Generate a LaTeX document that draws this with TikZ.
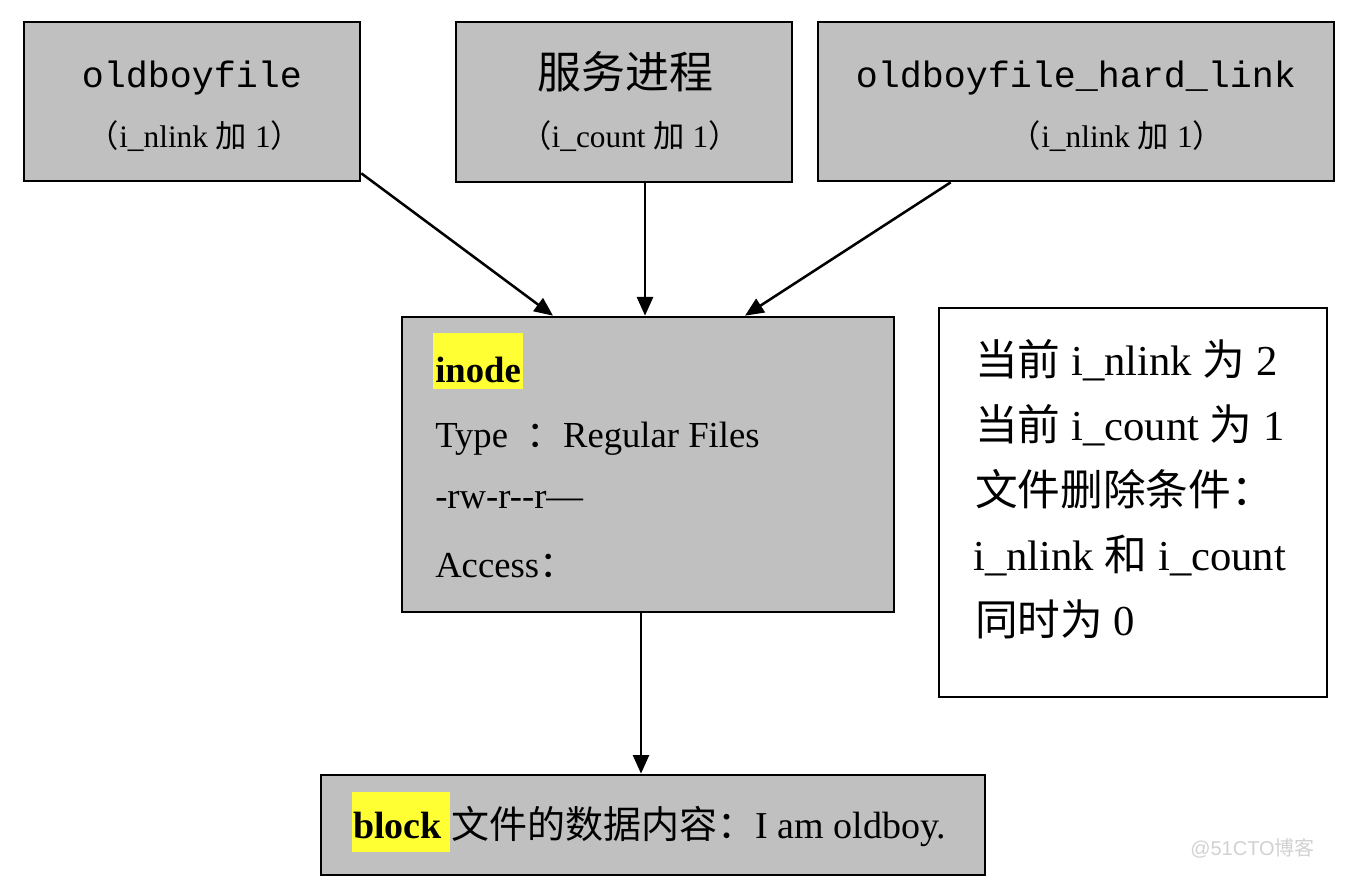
\documentclass[tikz,border=0pt]{standalone}
\usepackage{fontspec}
\setmainfont{Liberation Serif}
\setmonofont{Liberation Mono}
\newfontfamily\cjk{Noto Sans CJK SC}
\newfontfamily\wmfont{Liberation Sans}
\usetikzlibrary{arrows.meta,calc}
\definecolor{boxgray}{HTML}{C0C0C0}
\definecolor{hl}{HTML}{FFFF33}
\begin{document}
\begin{tikzpicture}[x=0.75pt,y=-0.75pt,
  box/.style={draw=black,line width=2pt,fill=boxgray,rectangle,inner sep=0pt},
  wbox/.style={draw=black,line width=2pt,fill=white,rectangle,inner sep=0pt},
  arr/.style={line width=1.9pt,-{Triangle[length=14pt,width=12pt]}},
  txt/.style={inner sep=0pt,anchor=base west},
  ctxt/.style={inner sep=0pt,anchor=base},
  hlbox/.style={fill=hl,inner sep=0pt,anchor=base west}]
\useasboundingbox (0,0) rectangle (1372,895);
% top boxes
\node[box,minimum width=252pt,minimum height=119.25pt] (f1) at (192,101.5) {};
\node[box,minimum width=252pt,minimum height=120pt] (f2) at (624,102) {};
\node[box,minimum width=387pt,minimum height=119.25pt] (f3) at (1076,101.5) {};
\node[ctxt,font=\ttfamily\fontsize{27.5pt}{30pt}\selectfont] (t1) at (192,88) {oldboyfile};
\node[ctxt,font=\fontsize{23.5pt}{26pt}\selectfont] (s1) at (195,148) {{\cjk （}i\_nlink {\cjk 加} 1{\cjk ）}};
\node[ctxt,font=\cjk\fontsize{33pt}{36pt}\selectfont] (t2) at (625,89) {服务进程};
\node[ctxt,font=\fontsize{23.5pt}{26pt}\selectfont] (s2) at (630,148) {{\cjk （}i\_count {\cjk 加} 1{\cjk ）}};
\node[ctxt,font=\ttfamily\fontsize{27.5pt}{30pt}\selectfont] (t3) at (1076,88) {oldboyfile\_hard\_link};
\node[ctxt,font=\fontsize{23.5pt}{26pt}\selectfont] (s3) at (1117,148) {{\cjk （}i\_nlink {\cjk 加} 1{\cjk ）}};
% inode box
\node[box,minimum width=369pt,minimum height=221.25pt] (inode) at (648,464.5) {};
\node[hlbox,minimum width=67.5pt,minimum height=42pt,anchor=north west] (hl1) at (433,333) {};
\node[txt,font=\bfseries\fontsize{27.5pt}{30pt}\selectfont] (n1) at (435,382) {inode};
\node[txt,font=\fontsize{27.5pt}{30pt}\selectfont] (n2) at (435,447) {Type\ \ {\cjk ：}Regular Files};
\node[txt,font=\fontsize{27.5pt}{30pt}\selectfont] (n3) at (435,508) {-rw-r-{}-r—};
\node[txt,font=\fontsize{27.5pt}{30pt}\selectfont] (n4) at (435,577) {Access{\cjk ：}};
% right note box
\node[wbox,minimum width=291pt,minimum height=291.75pt] (note) at (1133,502.5) {};
\node[txt,font=\fontsize{32pt}{34pt}\selectfont] (r1) at (975,375) {{\cjk 当前} i\_nlink {\cjk 为} 2};
\node[txt,font=\fontsize{32pt}{34pt}\selectfont] (r2) at (975,440) {{\cjk 当前} i\_count {\cjk 为} 1};
\node[txt,font=\fontsize{32pt}{34pt}\selectfont] (r3) at (975,505) {{\cjk 文件删除条件：}};
\node[txt,font=\fontsize{32pt}{34pt}\selectfont] (r4) at (973,570) {i\_nlink {\cjk 和} i\_count};
\node[txt,font=\fontsize{32pt}{34pt}\selectfont] (r5) at (975,635) {{\cjk 同时为} 0};
% block box
\node[box,minimum width=498pt,minimum height=75pt] (blk) at (653,825) {};
\node[hlbox,minimum width=73.5pt,minimum height=45pt,anchor=north west] (hl2) at (352,792) {};
\node[txt,font=\fontsize{28.5pt}{31pt}\selectfont] (b1) at (353,838) {\textbf{block} {\cjk 文件的数据内容：}I am oldboy.};
% arrows
\coordinate (a1s) at ($(f1.south east)+(0,-9)$);
\coordinate (a1e) at ($(inode.north)+(-95,0)$);
\coordinate (a2s) at ($(f2.south)+(21,0)$);
\coordinate (a2e) at ($(inode.north)+(-3,0)$);
\coordinate (a3s) at ($(f3.south west)+(134,0)$);
\coordinate (a3e) at ($(inode.north)+(97,0)$);
\coordinate (a4s) at ($(inode.south)+(-7,0)$);
\coordinate (a4e) at ($(blk.north)+(-12,0)$);
\draw[arr] (a1s) -- (a1e);
\draw[arr] (a2s) -- (a2e);
\draw[arr] (a3s) -- (a3e);
\draw[arr] (a4s) -- (a4e);
% watermark
\node[txt,font=\wmfont\fontsize{15pt}{18pt}\selectfont,text=black!18] (wm) at (1190,855) {@51CTO{\cjk 博客}};
\end{tikzpicture}
\end{document}
